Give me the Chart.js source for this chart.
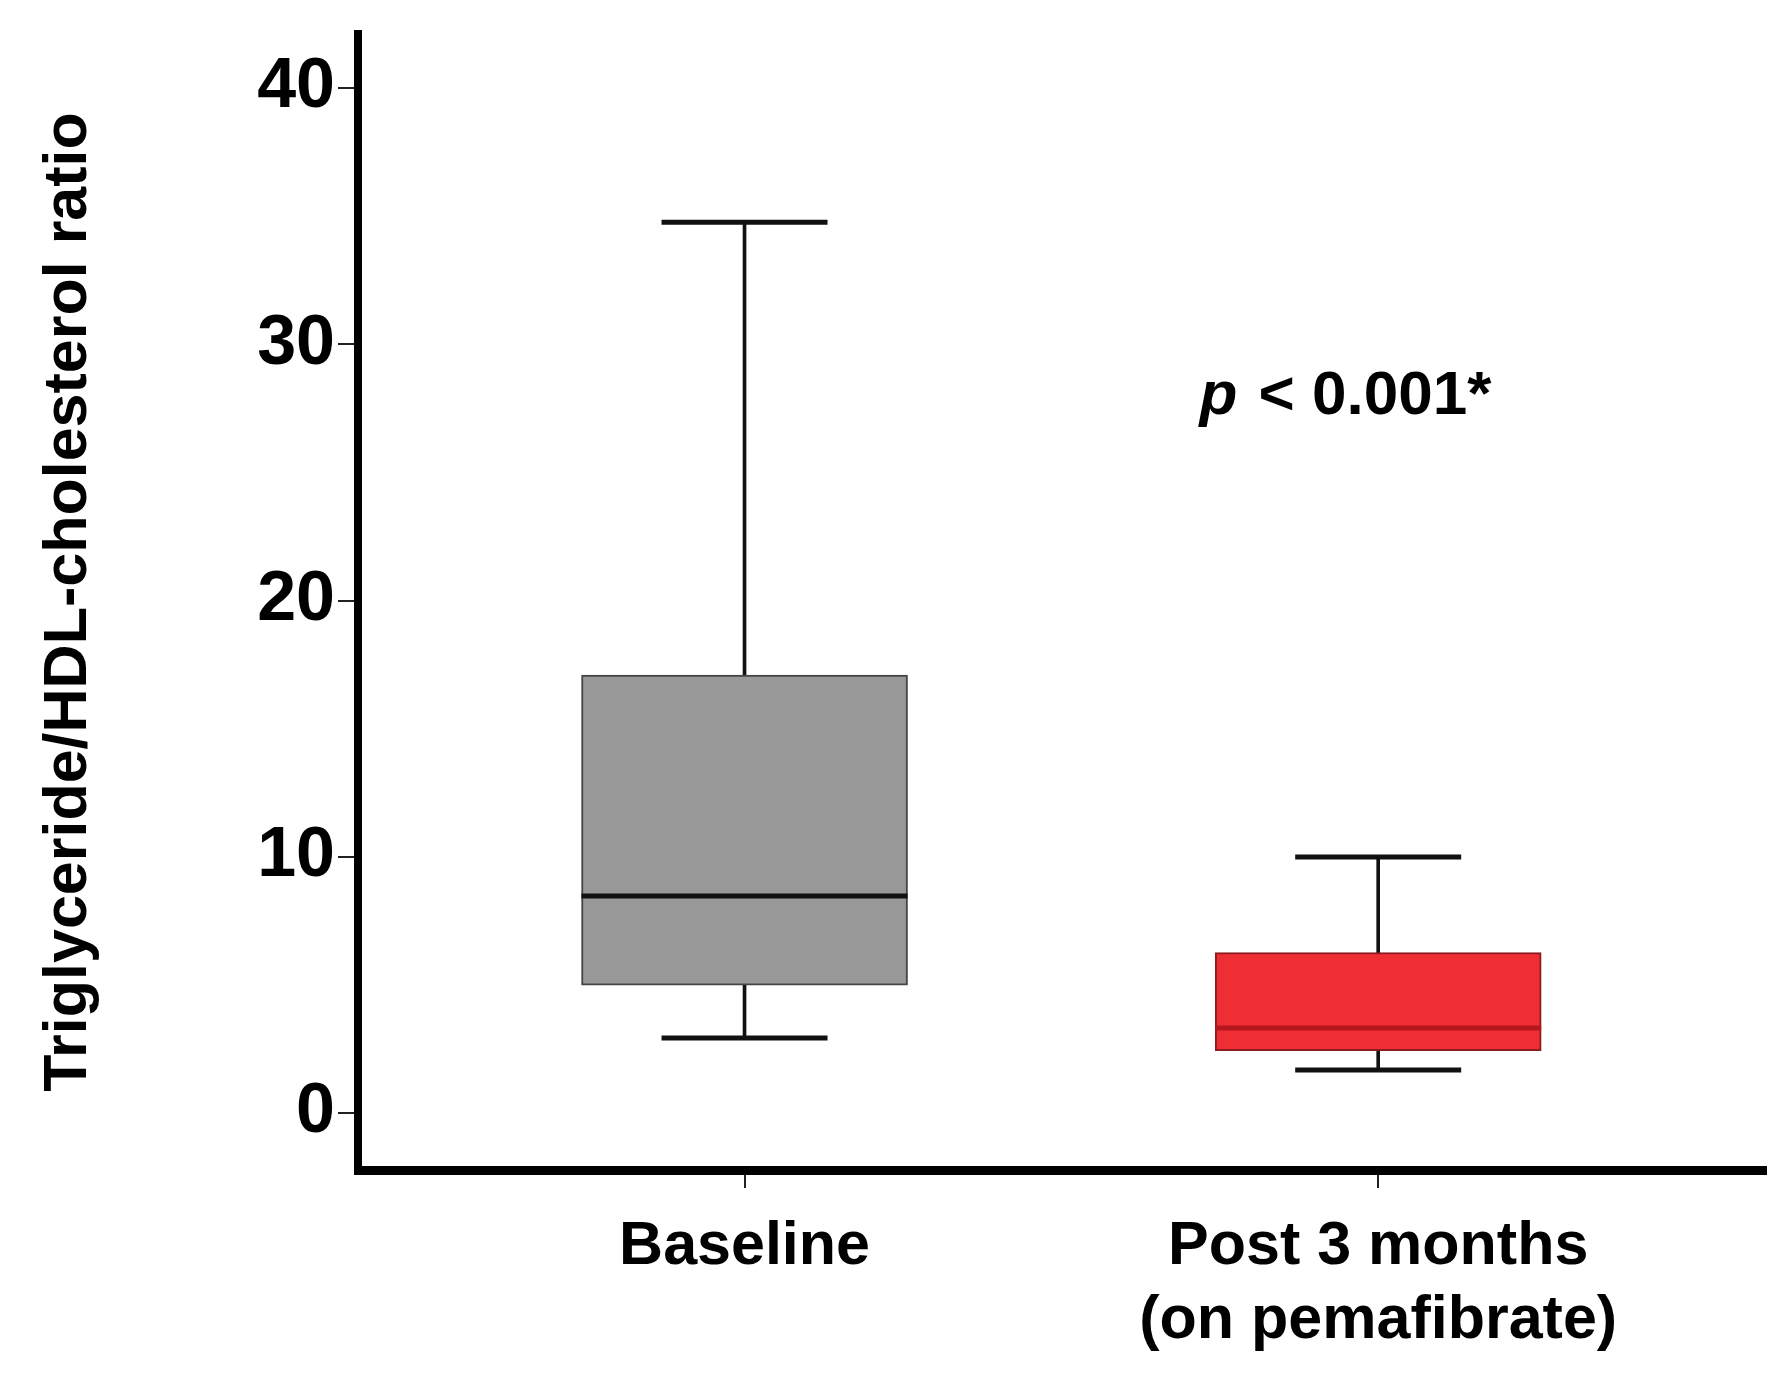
<!DOCTYPE html>
<html lang="en">
<head>
    <meta charset="UTF-8">
    <title>TG/HDL-C ratio</title>
    <script src="https://cdn.jsdelivr.net/npm/chart.js"></script>
    <style>
        body { margin: 0; background: #fff; }
        canvas { display: block; }
    </style>
</head>
<body>
<canvas id="grafico" width="1783" height="1378"></canvas>
<script>

// data
const categories = ['Baseline', ['Post 3 months', '(on pemafibrate)']];
const groupX = [0, 1];
const whiskerLow = [2.93, 1.68];
const q1 = [4.99, 2.44];
const median = [8.47, 3.32];
const q3 = [17.09, 6.26];
const whiskerHigh = [34.76, 9.99];
const yTicks = [0, 10, 20, 30, 40];

const fonte = '"Liberation Sans", Arial, Helvetica, sans-serif';

function pontos(vals) {
    return groupX.map((x, i) => ({ x: x, y: vals[i] }));
}
function faixa(a, b) {
    return groupX.map((x, i) => ({ x: x, y: [a[i], b[i]] }));
}

// p value text, placed in data units
const pLabel = {
    id: 'pLabel',
    afterDraw(chart) {
        const ctx = chart.ctx;
        const px = chart.scales.x.getPixelForValue(0.718);
        const py = chart.scales.y.getPixelForValue(27.3);
        ctx.save();
        ctx.fillStyle = '#000';
        ctx.textBaseline = 'alphabetic';
        ctx.font = 'italic bold 62px ' + fonte;
        ctx.fillText('p', px, py);
        const w = ctx.measureText('p ').width;
        ctx.font = 'bold 62px ' + fonte;
        ctx.fillText('< 0.001*', px + w + 4, py);
        ctx.restore();
    }
};

const grafico = new Chart(document.getElementById('grafico'), {
    type: 'bar',
    data: {
        datasets: [
            {
                // boxes
                data: faixa(q1, q3),
                backgroundColor: ['#999999', '#ee2e34'],
                borderColor: ['#444444', '#8e1b1f'],
                borderWidth: 2,
                borderSkipped: false,
                barThickness: 326,
                grouped: false,
                order: 2
            },
            {
                // upper whiskers
                data: faixa(q3, whiskerHigh),
                backgroundColor: '#111',
                borderWidth: 0,
                barThickness: 3,
                grouped: false,
                order: 3
            },
            {
                // lower whiskers
                data: faixa(whiskerLow, q1),
                backgroundColor: '#111',
                borderWidth: 0,
                barThickness: 3,
                grouped: false,
                order: 3
            },
            {
                // whisker caps
                type: 'scatter',
                data: pontos(whiskerHigh).concat(pontos(whiskerLow)),
                pointStyle: 'line',
                pointRadius: 83,
                pointBorderWidth: 5,
                pointBorderColor: '#111',
                order: 1
            },
            {
                // medians
                type: 'scatter',
                data: pontos(median),
                pointStyle: 'line',
                pointRadius: 163,
                pointBorderWidth: 5,
                pointBorderColor: ['#111', '#b3161c'],
                order: 0
            }
        ]
    },
    options: {
        responsive: false,
        animation: false,
        layout: { autoPadding: false, padding: { top: 34, right: 17, bottom: 0, left: 0 } },
        plugins: {
            legend: { display: false },
            tooltip: { enabled: false }
        },
        scales: {
            x: {
                type: 'linear',
                offset: false,
                min: -0.61,
                max: 1.612,
                afterBuildTicks: (scale) => { scale.ticks = groupX.map(v => ({ value: v })); },
                afterFit: (scale) => { scale.height = 208; scale.paddingLeft = 0; scale.paddingRight = 0; },
                ticks: {
                    callback: (value) => categories[value],
                    color: '#000',
                    padding: 22,
                    maxRotation: 0,
                    autoSkip: false,
                    font: { family: fonte, size: 61, weight: 'bold', lineHeight: 1.22 }
                },
                grid: { offset: false, drawOnChartArea: false, drawTicks: true, tickLength: 18, lineWidth: 2, color: '#222' },
                border: { display: true, width: 9, color: '#000' }
            },
            y: {
                min: -2.22,
                max: 42.11,
                afterBuildTicks: (scale) => { scale.ticks = yTicks.map(v => ({ value: v })); },
                afterFit: (scale) => { scale.width = 358; scale.paddingTop = 0; scale.paddingBottom = 0; },
                ticks: {
                    color: '#000',
                    padding: 3,
                    font: { family: fonte, size: 70, weight: 'bold' }
                },
                grid: { drawOnChartArea: false, drawTicks: true, tickLength: 20, lineWidth: 2, color: '#222' },
                border: { display: true, width: 8, color: '#000' },
                title: {
                    display: true,
                    text: 'Triglyceride/HDL-cholesterol ratio',
                    color: '#000',
                    padding: { top: 33, bottom: 0 },
                    font: { family: fonte, size: 61, weight: 'bold' }
                }
            }
        }
    },
    plugins: [pLabel]
});

</script>
</body>
</html>
